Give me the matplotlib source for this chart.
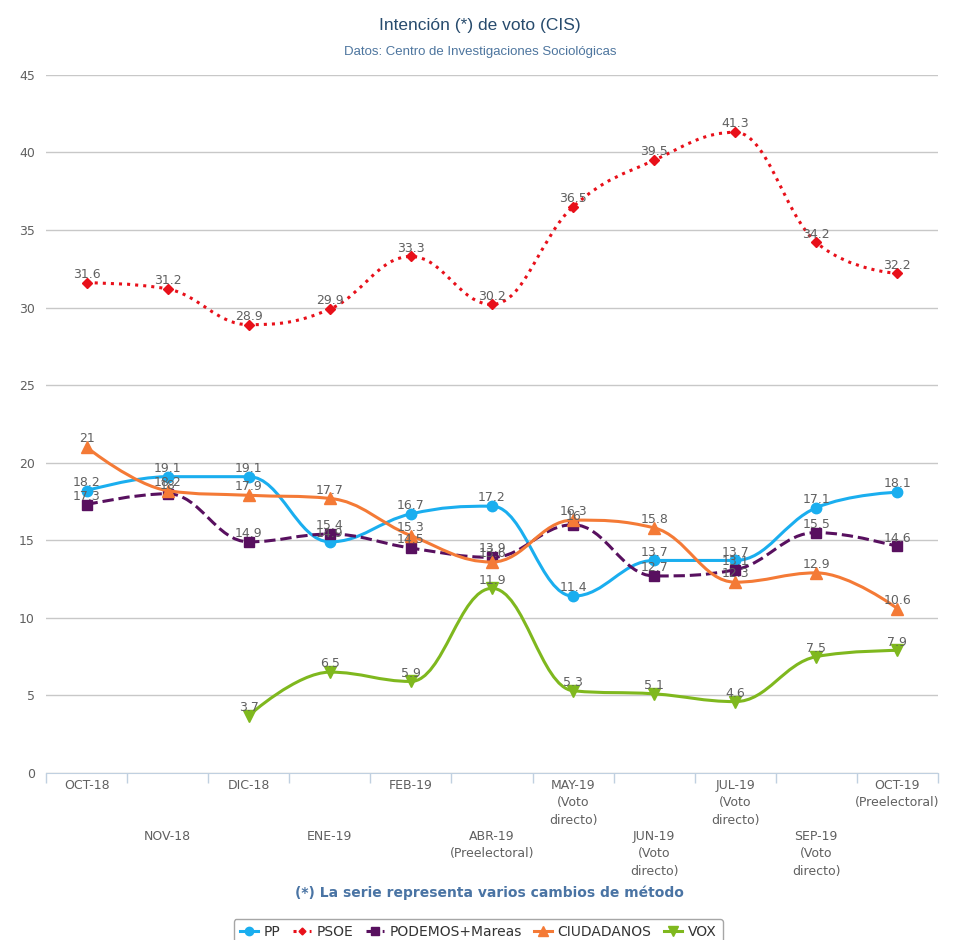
import matplotlib
matplotlib.use('Agg')
import matplotlib.pyplot as plt
import numpy as np
from matplotlib.path import Path
from matplotlib.patches import PathPatch
from matplotlib.lines import Line2D

plt.rcParams['font.family'] = ['DejaVu Sans']

categorias = ['OCT-18', 'NOV-18', 'DIC-18', 'ENE-19', 'FEB-19',
              'ABR-19\n(Preelectoral)', 'MAY-19\n(Voto\ndirecto)',
              'JUN-19\n(Voto\ndirecto)', 'JUL-19\n(Voto\ndirecto)',
              'SEP-19\n(Voto\ndirecto)', 'OCT-19\n(Preelectoral)']

pp = [18.2, 19.1, 19.1, 14.9, 16.7, 17.2, 11.4, 13.7, 13.7, 17.1, 18.1]
psoe = [31.6, 31.2, 28.9, 29.9, 33.3, 30.2, 36.5, 39.5, 41.3, 34.2, 32.2]
podemos = [17.3, 18, 14.9, 15.4, 14.5, 13.9, 16, 12.7, 13.1, 15.5, 14.6]
ciudadanos = [21, 18.2, 17.9, 17.7, 15.3, 13.6, 16.3, 15.8, 12.3, 12.9, 10.6]
vox = [None, None, 3.7, 6.5, 5.9, 11.9, 5.3, 5.1, 4.6, 7.5, 7.9]

series = [
    ('PP', pp, '#1aaeef', 'o', '-', 7.5, 2.2),
    ('PSOE', psoe, '#e8101a', 'D', ':', 5, 2.2),
    ('PODEMOS+Mareas', podemos, '#58105f', 's', '--', 7.5, 2.2),
    ('CIUDADANOS', ciudadanos, '#f47a36', '^', '-', 8, 2.2),
    ('VOX', vox, '#7fb81e', 'v', '-', 8, 2.2),
]


def spline_path(xs, ys):
    # suavizado tipo highcharts "spline"
    smoothing = 1.5
    denom = smoothing + 1
    n = len(xs)
    verts = [(xs[0], ys[0])]
    codes = [Path.MOVETO]
    right = [None] * n
    left = [None] * n
    for i in range(1, n - 1):
        x, y = xs[i], ys[i]
        lx, ly = xs[i - 1], ys[i - 1]
        nx, ny = xs[i + 1], ys[i + 1]
        lcx = (smoothing * x + lx) / denom
        lcy = (smoothing * y + ly) / denom
        rcx = (smoothing * x + nx) / denom
        rcy = (smoothing * y + ny) / denom
        corr = (rcy - lcy) * (rcx - x) / (rcx - lcx) + y - rcy
        lcy += corr
        rcy += corr
        if lcy > ly and lcy > y:
            lcy = max(ly, y)
            rcy = 2 * y - lcy
        elif lcy < ly and lcy < y:
            lcy = min(ly, y)
            rcy = 2 * y - lcy
        if rcy > ny and rcy > y:
            rcy = max(ny, y)
            lcy = 2 * y - rcy
        elif rcy < ny and rcy < y:
            rcy = min(ny, y)
            lcy = 2 * y - rcy
        left[i] = (lcx, lcy)
        right[i] = (rcx, rcy)
    for i in range(1, n):
        c1 = right[i - 1] or (xs[i - 1], ys[i - 1])
        c2 = left[i] or (xs[i], ys[i])
        verts += [c1, c2, (xs[i], ys[i])]
        codes += [Path.CURVE4] * 3
    return Path(verts, codes)


fig = plt.figure(figsize=(9.6, 9.4), dpi=100)
ax = fig.add_axes([0.048, 0.1777, 0.929, 0.7426])

x = np.arange(len(categorias))
ax.set_xlim(-0.5, len(categorias) - 0.5)
ax.set_ylim(0, 45)
ax.set_yticks(range(0, 46, 5))
ax.grid(axis='y', color='#c8c8c8', linewidth=1)
ax.set_axisbelow(True)
for s in ['top', 'right', 'left']:
    ax.spines[s].set_visible(False)
ax.spines['bottom'].set_color('#c0d0e0')
ax.tick_params(axis='y', length=0, labelsize=9, labelcolor='#606060', pad=8)

# etiquetas escalonadas: pares arriba, impares abajo
ax.set_xticks(x[::2], categorias[::2])
ax.set_xticks(x[1::2], categorias[1::2], minor=True)
ax.tick_params(axis='x', which='both', length=0, labelsize=9,
               labelcolor='#606060')
ax.tick_params(axis='x', which='major', pad=4)
ax.tick_params(axis='x', which='minor', pad=41)
for lab in ax.get_xticklabels(minor=False) + ax.get_xticklabels(minor=True):
    lab.set_linespacing(1.45)

sec = ax.secondary_xaxis('bottom')
sec.set_xticks(np.arange(len(categorias) + 1) - 0.5)
sec.set_xticklabels([])
sec.tick_params(length=7, color='#c0d0e0', width=1)
sec.spines['bottom'].set_visible(False)

handles = []
for z, (name, vals, color, marker, ls, ms, lw) in enumerate(series):
    xs = [i for i, v in enumerate(vals) if v is not None]
    ys = [v for v in vals if v is not None]
    path = spline_path(xs, ys)
    patch = PathPatch(path, fill=False, edgecolor=color, linewidth=lw,
                      linestyle=ls, zorder=3 + z, capstyle='butt')
    ax.add_patch(patch)
    ax.plot(xs, ys, linestyle='none', marker=marker, color=color,
            markersize=ms, zorder=3.5 + z)
    for xi, yi in zip(xs, ys):
        ax.annotate(f'{yi:g}', (xi, yi), xytext=(0, 3.5),
                    textcoords='offset points', ha='center', va='baseline',
                    fontsize=9, color='#606060', zorder=20)
    handles.append(Line2D([], [], color=color, linestyle=ls, linewidth=lw,
                          marker=marker, markersize=ms - 1.5))

fig.text(0.5, 0.973, 'Intención (*) de voto (CIS)', ha='center', va='center',
         fontsize=12.5, color='#274b6d', family='Liberation Sans')
fig.text(0.5, 0.945, 'Datos: Centro de Investigaciones Sociológicas',
         ha='center', va='center', fontsize=9.5, color='#4d759e',
         family='Liberation Sans')
fig.text(0.51, 0.050, '(*) La serie representa varios cambios de método',
         ha='center', va='center', fontsize=10, color='#4a74a4',
         fontweight='bold')

leg = fig.legend(handles, [s[0] for s in series], loc='upper center',
                 bbox_to_anchor=(0.498, 0.030), ncol=5, frameon=True,
                 fontsize=10, handlelength=1.3, columnspacing=0.9,
                 handletextpad=0.4, borderpad=0.45, fancybox=True)
leg.get_frame().set_edgecolor('#909090')
leg.get_frame().set_linewidth(1)
for t in leg.get_texts():
    t.set_color('#333333')

fig.savefig('out.png', dpi=100)
